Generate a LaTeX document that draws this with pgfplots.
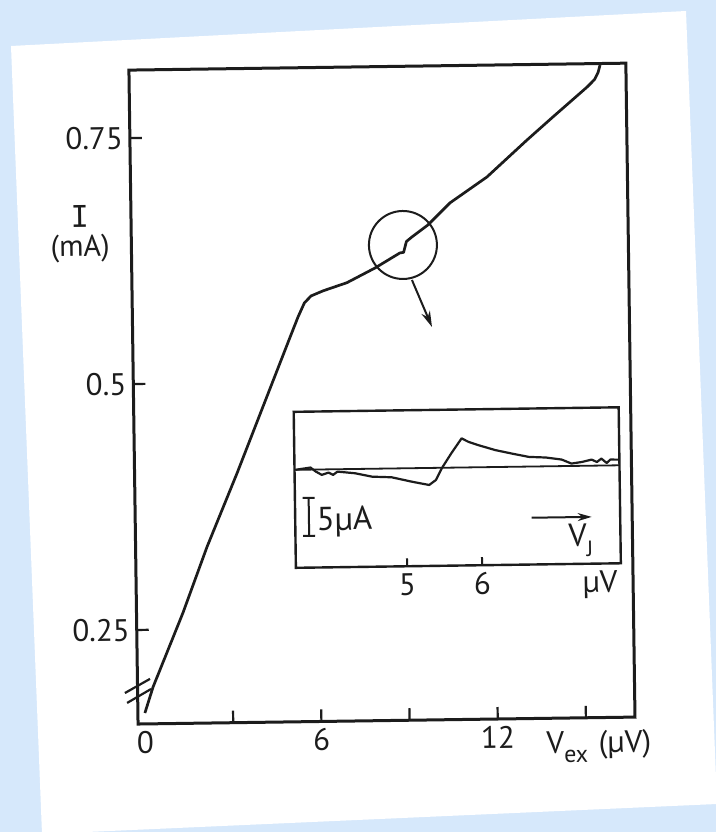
\documentclass[border=0pt]{standalone}
\usepackage{fontspec}
\setmainfont{PT Sans}
\newfontfamily\monofont{DejaVu Sans Mono}
\usepackage{pgfplots}
\pgfplotsset{compat=1.18}
\usetikzlibrary{arrows.meta}

\definecolor{bgblue}{HTML}{D6E8FB}
\definecolor{ink}{HTML}{1C1C1C}

\begin{document}
\begin{tikzpicture}[x=0.5pt,y=0.5pt]
% backdrop and the sheet of paper
\path[use as bounding box] (0,0) rectangle (716,832);
\fill[bgblue] (0,0) rectangle (716,832);
\begin{scope}
  \clip (0,0) rectangle (716,832);
  \fill[white] (11,786) -- (686,821) -- (717,28) -- (42,-2) -- cycle;
\end{scope}

\begin{scope}[transform canvas={rotate around={0.8:(70pt,56pt)}}]
% current--voltage characteristic
\begin{axis}[
  scale only axis, width=248.5pt, height=327pt,
  at={(69pt,54pt)}, anchor=south west,
  xmin=-0.238, xmax=16.67, ymin=0.1544, ymax=0.8191,
  axis line style={line width=1.5pt, draw=ink},
  tick pos=left, tick align=inside, major tick length=6pt,
  major tick style={line width=1.1pt, draw=ink},
  xtick={3,6,9,12,15}, xticklabels={,6,,12,},
  extra x ticks={0}, extra x tick labels={0},
  extra x tick style={major tick length=0pt},
  ytick={0.25,0.5,0.75}, yticklabels={0.25,0.5,0.75},
  ticklabel style={font=\fontsize{15.5}{18}\selectfont, text=ink},
  /pgf/number format/assume math mode=true,
  clip=false,
]
\addplot[ink, line width=1.35pt, line join=round] coordinates {
  (0.00,0.1655) (0.29,0.1918) (1.34,0.2666) (2.19,0.3333) (3.25,0.408)
  (4.16,0.475) (5.12,0.5456) (5.40,0.566) (5.62,0.580) (5.85,0.587)
  (6.26,0.592) (7.08,0.600) (8.04,0.6145) (8.89,0.6294) (9.02,0.6300)
  (9.12,0.6410) (9.31,0.6455) (9.86,0.6575) (10.62,0.6796) (11.89,0.7054)
  (13.27,0.7424) (14.16,0.7654) (15.34,0.7954) (15.60,0.8030) (15.72,0.8100)
  (15.79,0.8175)
};
% axis break on the current axis
\draw[ink, line width=1.1pt] (axis cs:-0.67,0.1861) -- (axis cs:0.19,0.2001);
\draw[ink, line width=1.1pt] (axis cs:-0.60,0.1760) -- (axis cs:0.22,0.1898);
% region shown enlarged below
\draw[ink, line width=1pt] (axis cs:9.00,0.6375) circle[radius=17pt];
\draw[ink, line width=1pt, -{Stealth[length=8pt,width=4.5pt]}]
  (axis cs:9.29,0.6018) -- (axis cs:9.95,0.5537);
% axis titles
\node[font=\fontsize{15}{14.5}\selectfont, align=center, text=ink]
  at (axis cs:-1.98,0.6532) {{\monofont I}\\(mA)};
\node[font=\fontsize{15.5}{17}\selectfont, anchor=west, text=ink, inner sep=0pt]
  at (axis cs:13.63,0.1253)
  {V\raisebox{-0.3em}{\fontsize{12}{12}\selectfont ex}\hspace{0.35em}(µV)};
\end{axis}

% enlarged step in the current
\begin{axis}[
  scale only axis, width=162.5pt, height=78pt,
  at={(149pt,131pt)}, anchor=south west,
  xmin=3.517, xmax=7.85, ymin=-12.25, ymax=7.25,
  axis line style={line width=1.2pt, draw=ink},
  tick pos=left, tick align=inside, major tick length=4pt,
  major tick style={line width=1pt, draw=ink},
  xtick={5,6}, xticklabels={5,6}, ytick=\empty,
  extra x ticks={7.57}, extra x tick labels={µV},
  extra x tick style={major tick length=0pt},
  ticklabel style={font=\fontsize{15.5}{18}\selectfont, text=ink},
  clip=false,
]
\addplot[ink, line width=0.9pt] coordinates {(3.517,0) (7.85,0)};
\addplot[ink, line width=1.1pt, line join=round] coordinates {
  (3.53,0) (3.73,0.26) (3.80,-0.25) (3.88,-0.68) (3.97,-0.40) (4.03,-0.70)
  (4.09,-0.30) (4.32,-0.53) (4.55,-0.99) (4.81,-1.10) (5.08,-1.69)
  (5.31,-2.13) (5.40,-1.52) (5.48,-0.07) (5.61,1.79) (5.75,3.64)
  (5.84,3.20) (5.97,2.77) (6.20,2.11) (6.41,1.67) (6.64,1.21) (6.87,1.10)
  (7.08,0.82) (7.21,0.30) (7.35,0.48) (7.48,0.76) (7.55,0.45) (7.61,0.87)
  (7.68,0.31) (7.73,0.73) (7.84,0.71)
};
\draw[ink, line width=1pt, {Bar[width=6pt]}-{Bar[width=6pt]}]
  (axis cs:3.70,-3.4) -- (axis cs:3.70,-8.4);
\node[anchor=west, font=\fontsize{16.5}{18}\selectfont, text=ink, inner sep=0pt]
  at (axis cs:3.80,-6.56) {5µA};
\draw[ink, line width=1pt, -{Stealth[length=7pt,width=4pt]}]
  (axis cs:6.67,-6.4) -- (axis cs:7.47,-6.4);
\node[font=\fontsize{16}{18}\selectfont, text=ink, inner sep=0pt]
  at (axis cs:7.32,-9.3) {V\raisebox{-0.3em}{\fontsize{11}{11}\selectfont J}};
\end{axis}
\end{scope}
\end{tikzpicture}
\end{document}
